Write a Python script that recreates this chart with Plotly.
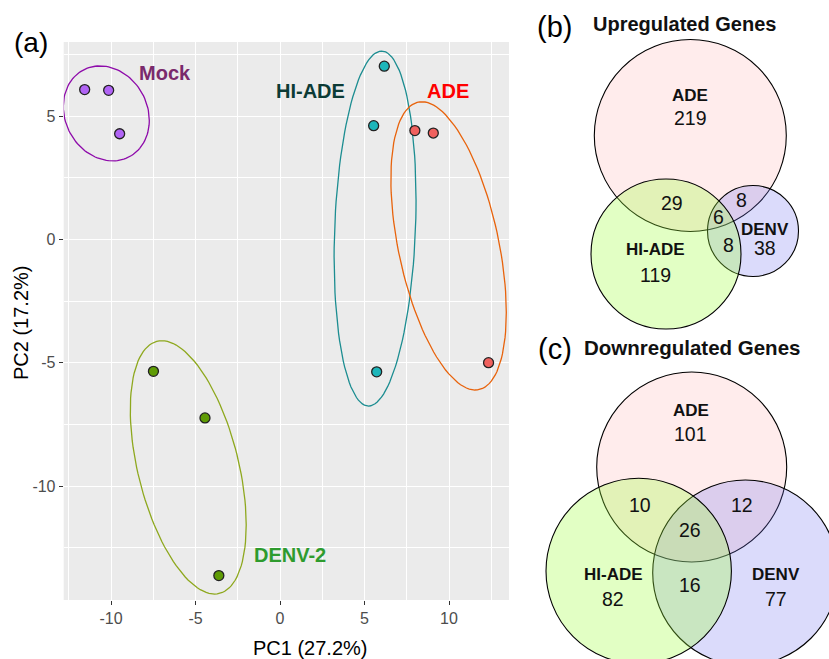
import numpy as np
import plotly.graph_objects as go

W, H = 829, 659

# ---------------- data ----------------
mock_pc1 = [-11.56, -10.14, -9.49]
mock_pc2 = [6.07, 6.04, 4.28]
hiade_pc1 = [6.17, 5.54, 5.72]
hiade_pc2 = [7.02, 4.61, -5.37]
ade_pc1 = [7.98, 9.07, 12.34]
ade_pc2 = [4.41, 4.31, -5.00]
denv_pc1 = [-7.49, -4.44, -3.62]
denv_pc2 = [-5.35, -7.24, -13.63]

x_ticks = [-10, -5, 0, 5, 10]
y_ticks = [-10, -5, 0, 5]
x_minor = [-12.5, -7.5, -2.5, 2.5, 7.5, 12.5]
y_minor = [-12.5, -7.5, -2.5, 2.5, 7.5]

venn_sets = ["ADE", "HI-ADE", "DENV"]
region_names = ["ADE", "HI-ADE", "DENV", "ADE&HI-ADE", "ADE&DENV", "HI-ADE&DENV", "ALL"]
up_counts = [219, 119, 38, 29, 8, 8, 6]
down_counts = [101, 82, 77, 10, 12, 16, 26]

# ---------------- hand-drawn group ovals (geometry, data units) ----------------
# centre x, centre y, half width, half height, x-offset of the top point
oval_geom = {
    "Mock": (-10.28, 5.105, 2.545, 1.925, -0.37),
    "HI-ADE": (5.625, 0.438, 2.425, 7.195, 0.387),
    "ADE": (9.975, -0.265, 3.415, 5.843, -1.58),
    "DENV-2": (-5.43, -9.244, 3.43, 5.134, -1.56),
}

# ---------------- helpers ----------------
def px(x):
    return x / W

def py(y):
    return 1 - y / H

def oval(cx, cy, hx, hy, dxtop, segments=120):
    S = np.array([[hx * hx, dxtop * hy], [dxtop * hy, hy * hy]])
    L = np.linalg.cholesky(S)
    t = np.linspace(0, 2 * np.pi, segments + 1)
    uc = np.vstack([np.cos(t), np.sin(t)])
    e = L @ uc
    return cx + e[0], cy + e[1]

fig = go.Figure()

groups = [
    ("Mock", mock_pc1, mock_pc2, "#B164F5", "#8E0BAA"),
    ("HI-ADE", hiade_pc1, hiade_pc2, "#1DB6BA", "#1C8D91"),
    ("ADE", ade_pc1, ade_pc2, "#F0615E", "#E8630C"),
    ("DENV-2", denv_pc1, denv_pc2, "#5F9C05", "#8EA81E"),
]
for name, xs, ys, pc, ec in groups:
    ex, ey = oval(*oval_geom[name])
    fig.add_trace(go.Scatter(x=ex, y=ey, mode="lines", line=dict(color=ec, width=1.3),
                             showlegend=False, hoverinfo="skip"))
for name, xs, ys, pc, ec in groups:
    fig.add_trace(go.Scatter(x=xs, y=ys, mode="markers", name=name,
                             marker=dict(size=10, color=pc, line=dict(color="#222222", width=1.3)),
                             showlegend=False))

axis_common = dict(showline=False, zeroline=False, ticks="outside", ticklen=4,
                   tickcolor="#333333", tickwidth=1.2,
                   tickfont=dict(family="Liberation Sans, Arial", size=16, color="#4D4D4D"),
                   showgrid=True, gridcolor="white", gridwidth=1.4, automargin=False)

fig.update_layout(
    width=W, height=H, margin=dict(l=0, r=0, t=0, b=0),
    paper_bgcolor="white", plot_bgcolor="#EBEBEB", template="none",
    xaxis=dict(domain=[px(63.7), px(509)], range=[-12.80, 13.55], tickvals=x_ticks,
               ticktext=[str(v) for v in x_ticks],
               minor=dict(tickvals=x_minor, showgrid=True, gridcolor="white", gridwidth=0.7, ticks=""),
               **axis_common),
    yaxis=dict(domain=[py(600), py(42)], range=[-14.62, 8.0], tickvals=y_ticks,
               ticktext=[str(v) for v in y_ticks],
               minor=dict(tickvals=y_minor, showgrid=True, gridcolor="white", gridwidth=0.7, ticks=""),
               **axis_common),
    font=dict(family="Liberation Sans, Arial"),
)

ann = []
def text(x, y, t, size, color="#111111", bold=False, angle=0):
    ann.append(dict(x=px(x), y=py(y), xref="paper", yref="paper", text=(f"<b>{t}</b>" if bold else t),
                    showarrow=False, xanchor="center", yanchor="middle", textangle=angle,
                    font=dict(family="Liberation Sans, Arial", size=size, color=color)))

# panel (a) texts
text(31, 42, "(a)", 28, "#000000")
text(310, 648, "PC1 (27.2%)", 20, "#000000")
text(21, 323, "PC2 (17.2%)", 20, "#000000", angle=-90)
text(165.3, 73, "Mock", 20, "#7A2A6C", True)
text(310.5, 91, "HI-ADE", 20, "#0C3B36", True)
text(448.4, 91, "ADE", 20, "#FF0000", True)
text(289.8, 555, "DENV-2", 20, "#2E9B2E", True)

# ---------------- Venn diagrams ----------------
fills = {"ADE": "rgba(255,150,150,0.18)", "HI-ADE": "rgba(160,255,60,0.30)",
         "DENV": "rgba(110,110,240,0.25)"}
draw_order = ["ADE", "DENV", "HI-ADE"]

venn_b_geom = {"ADE": (690.3, 135.5, 96), "HI-ADE": (666, 254, 75), "DENV": (753, 231, 45.5)}
venn_c_geom = {"ADE": (691.7, 467, 95), "HI-ADE": (638.7, 571, 92.7), "DENV": (745.4, 572.7, 92.7)}

shapes = []
for geom in (venn_b_geom, venn_c_geom):
    for s in draw_order:
        cx, cy, r = geom[s]
        shapes.append(dict(type="circle", xref="paper", yref="paper",
                           x0=px(cx - r), x1=px(cx + r), y0=py(cy + r), y1=py(cy - r),
                           fillcolor=fills[s], line=dict(color="#000000", width=1.1), layer="above"))
fig.update_layout(shapes=shapes)

# (b) upregulated
text(554, 27, "(b)", 29, "#000000")
text(684, 24.5, "Upregulated Genes", 20, "#111111", True)
b_pos = {"ADE": (690, 118), "HI-ADE": (655, 275), "DENV": (765, 248),
         "ADE&HI-ADE": (671.7, 203), "ADE&DENV": (741, 200), "HI-ADE&DENV": (728.3, 245),
         "ALL": (718.5, 217)}
b_lab = {"ADE": (690, 95), "HI-ADE": (655, 249), "DENV": (765, 229)}
for s in venn_sets:
    text(*b_lab[s], s, 17, "#111111", True)
for name, v in zip(region_names, up_counts):
    text(*b_pos[name], str(v), 19.5, "#111111")

# (c) downregulated
text(555, 349, "(c)", 29, "#000000")
text(691.5, 347, "Downregulated Genes", 20.5, "#111111", True)
c_pos = {"ADE": (690.7, 434), "HI-ADE": (613.3, 598.5), "DENV": (776, 598.5),
         "ADE&HI-ADE": (640, 505), "ADE&DENV": (741.7, 505), "HI-ADE&DENV": (690, 585),
         "ALL": (690, 530)}
c_lab = {"ADE": (690.7, 410), "HI-ADE": (613.3, 574), "DENV": (776, 574)}
for s in venn_sets:
    text(*c_lab[s], s, 17, "#111111", True)
for name, v in zip(region_names, down_counts):
    text(*c_pos[name], str(v), 19.5, "#111111")

fig.update_layout(annotations=ann)
fig.write_html("out.html", config={"displayModeBar": False},
               post_script="document.body.style.margin='0';document.body.style.overflow='hidden';")
